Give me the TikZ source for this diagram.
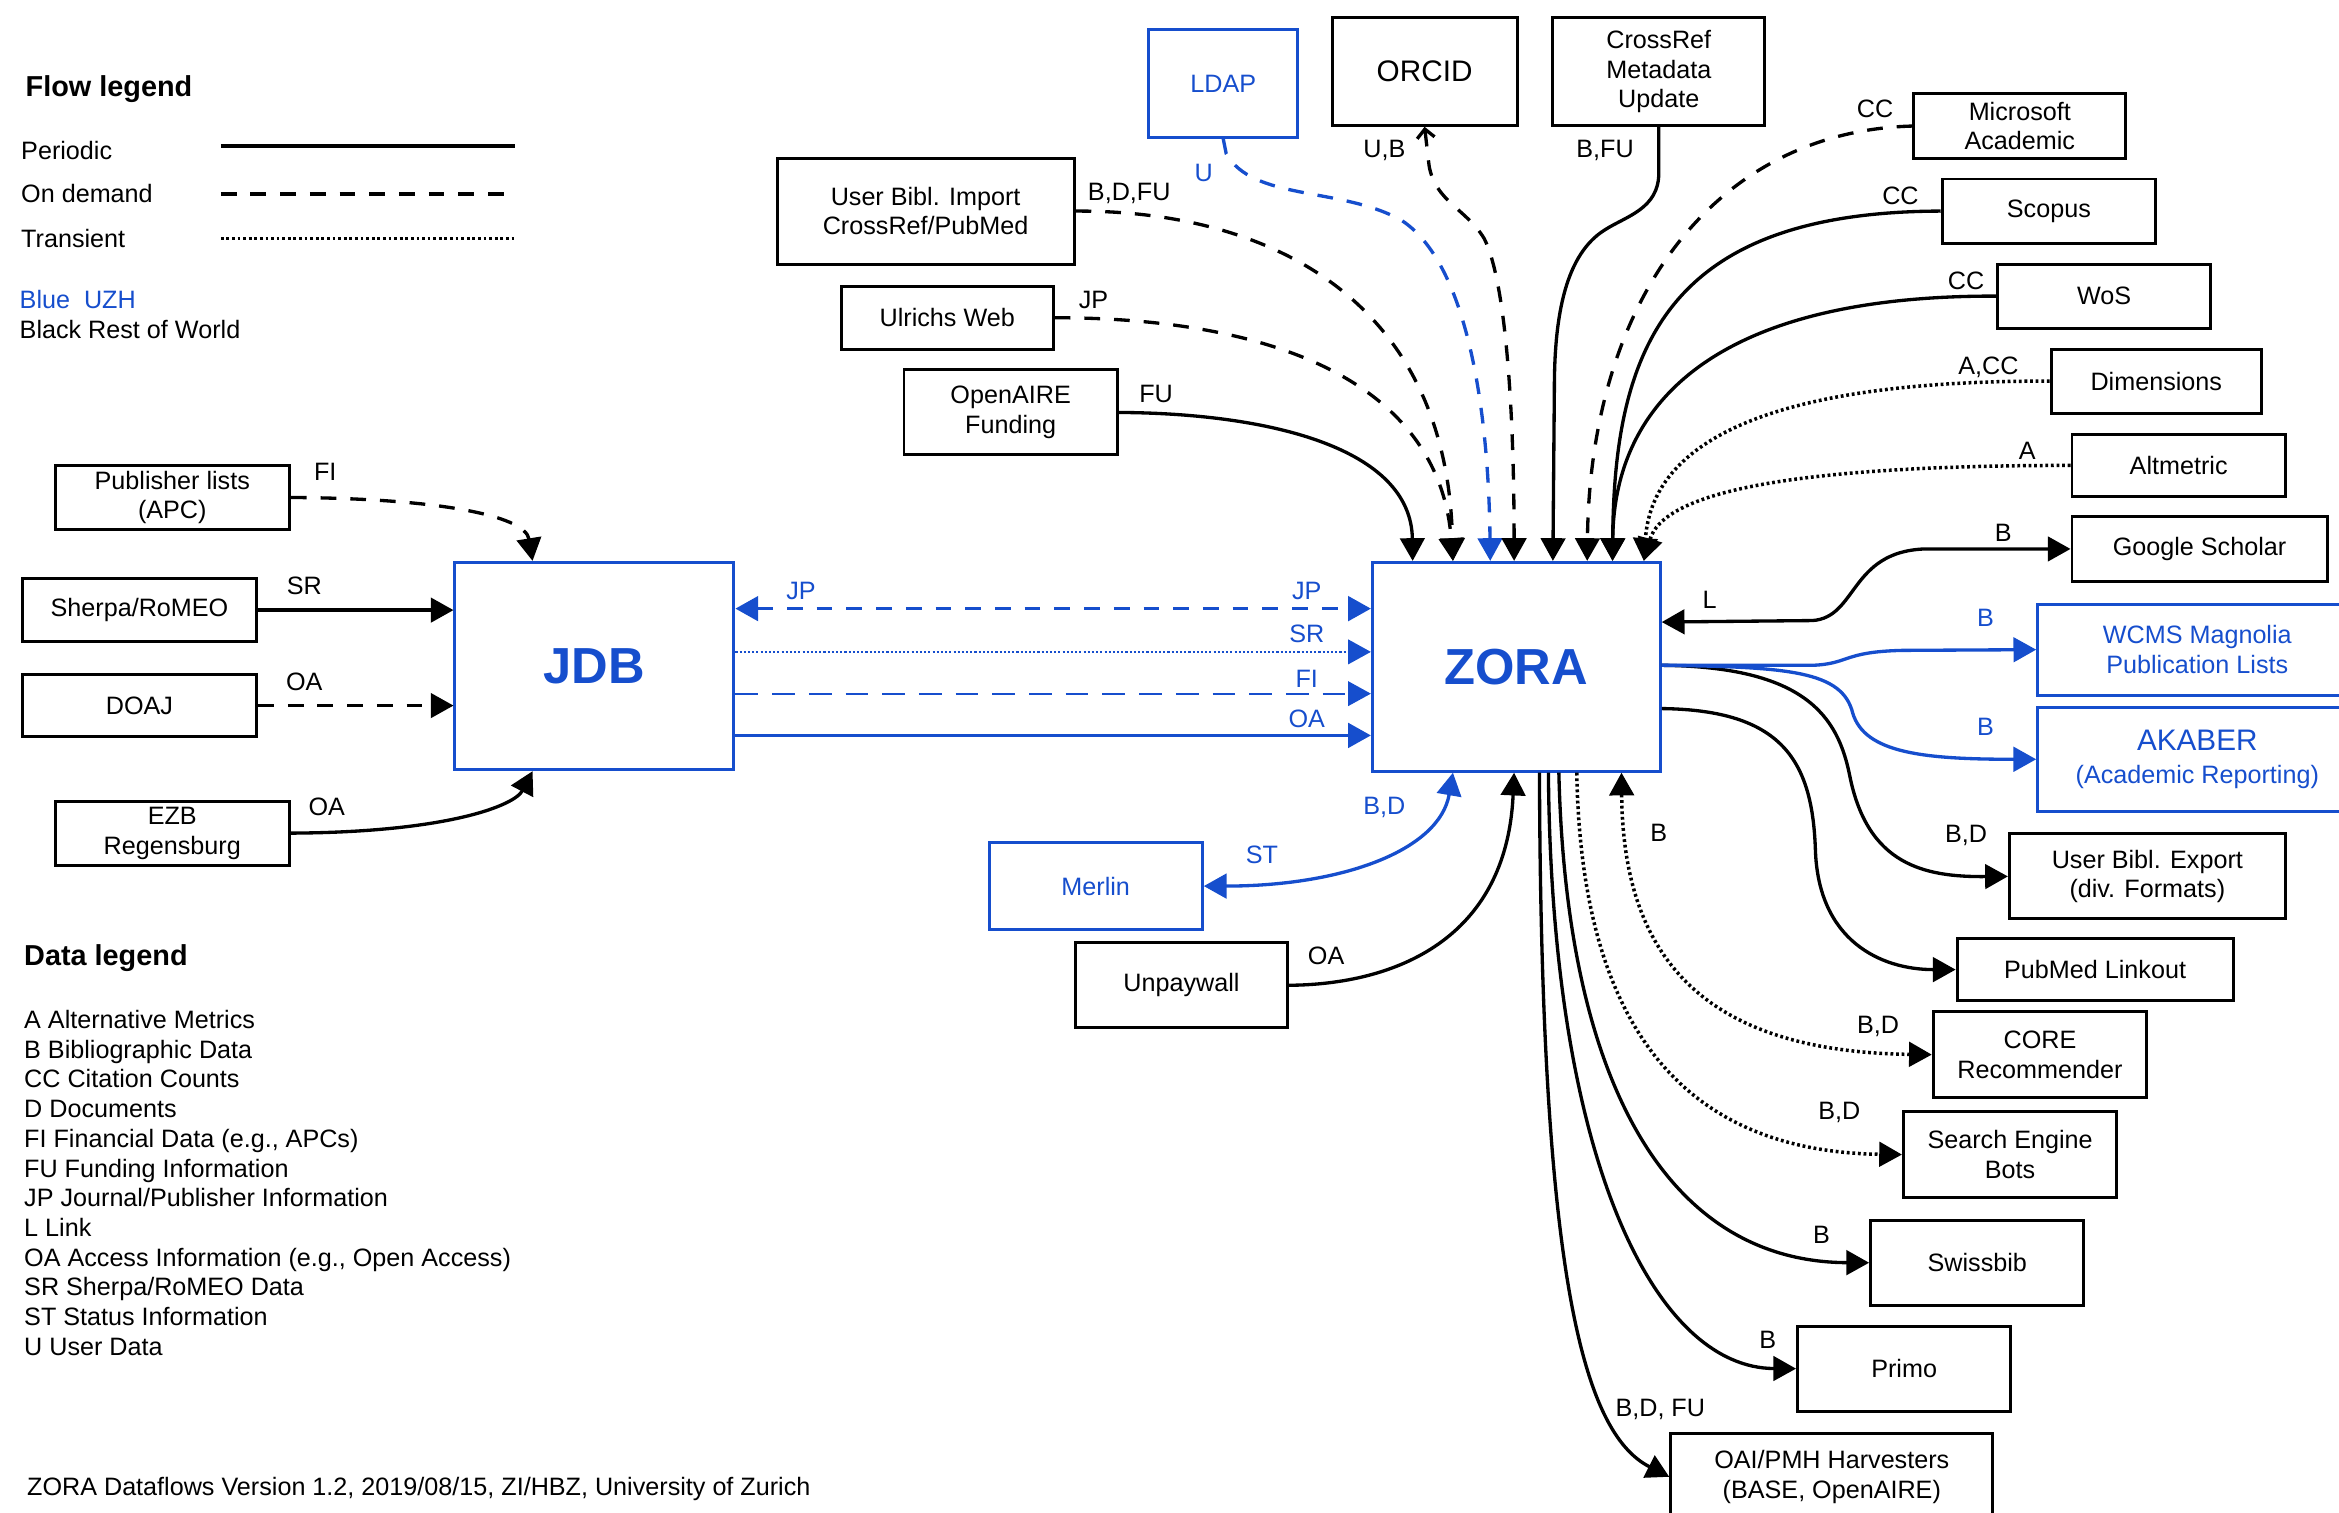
\documentclass[tikz,border=0pt]{standalone}
\usepackage{fontspec}
\setmainfont{Liberation Sans}
\usetikzlibrary{arrows.meta,calc}

\definecolor{uzh}{RGB}{22,78,205}
\newcommand{\boxfont}{\fontsize{14.4}{17}\selectfont}
\newcommand{\namefont}{\fontsize{17}{20}\selectfont}
\newcommand{\hubfont}{\fontsize{29}{34}\selectfont\bfseries}
\newcommand{\legfont}{\fontsize{16.5}{20}\selectfont\bfseries}

\tikzset{
  box/.style={draw, line width=1.7pt, inner sep=0pt, align=center, font=\boxfont},
  ubox/.style={box, draw=uzh, text=uzh},
  wh/.style 2 args={minimum width=#1*0.03cm, minimum height=#2*0.03cm},
  lbl/.style={inner sep=0pt, font=\boxfont},
  ulbl/.style={lbl, text=uzh},
  flow/.style={line width=1.9pt, ->},
  ondemand/.style={dash pattern=on 9pt off 8pt},
  transient/.style={line width=2pt, dash pattern=on 1.6pt off 1.6pt}
}

\begin{document}
\begin{tikzpicture}[x=0.03cm, y=-0.03cm, >={Triangle[length=13pt,width=14pt]}]
  \useasboundingbox (0,0) rectangle (1568,1014);

  % legends
  \node[anchor=west, inner sep=0pt, font=\legfont] (flowleg) at (17,60) {Flow legend};
  \node[lbl, anchor=west] (lgper) at (14,101) {Periodic};
  \node[lbl, anchor=west] (lgdem) at (14,130) {On demand};
  \node[lbl, anchor=west] (lgtra) at (14,160) {Transient};
  \draw[line width=2pt] (148,98) -- (345,98);
  \draw[line width=2pt, ondemand] (148,130) -- (345,130);
  \draw[transient] (148,160) -- (345,160);
  \node[ulbl, anchor=west] (lgblue) at (13,201) {Blue\ \ UZH};
  \node[lbl, anchor=west] (lgblack) at (13,221) {Black Rest of World};

  \node[anchor=west, inner sep=0pt, font=\legfont] (dataleg) at (16,642) {Data legend};
  \node[lbl, anchor=north west, align=left, font=\fontsize{14.4}{17}\selectfont] (datalist) at (16,677)
    {A Alternative Metrics\\B Bibliographic Data\\CC Citation Counts\\D Documents\\
     FI Financial Data (e.g., APCs)\\FU Funding Information\\JP Journal/Publisher Information\\
     L Link\\OA Access Information (e.g., Open Access)\\SR Sherpa/RoMEO Data\\
     ST Status Information\\U User Data};
  \node[lbl, anchor=west] (footer) at (18,998) {ZORA Dataflows Version 1.2, 2019/08/15, ZI/HBZ, University of Zurich};

  % systems
  \node[box, wh={157}{43}] (pub) at (115.5,333.5) {Publisher lists\\(APC)};
  \node[box, wh={157}{42}] (sherpa) at (93.5,409) {Sherpa/RoMEO};
  \node[box, wh={157}{42}] (doaj) at (93.5,473) {DOAJ};
  \node[box, wh={157}{43}] (ezb) at (115.5,558.5) {EZB\\Regensburg};
  \node[ubox, wh={187}{139}, font=\hubfont] (jdb) at (398.5,446.5) {JDB};
  \node[ubox, wh={193}{140}, font=\hubfont] (zora) at (1016.5,447) {ZORA};
  \node[ubox, wh={100}{72}] (ldap) at (820,56) {LDAP};
  \node[box, wh={124}{72}, font=\namefont] (orcid) at (955,48) {ORCID};
  \node[box, wh={142}{72}] (crossref) at (1112,48) {CrossRef\\Metadata\\Update};
  \node[box, wh={199}{71}] (ubimport) at (620.5,141.5) {User Bibl. Import\\CrossRef/PubMed};
  \node[box, wh={142}{42}] (ulrichs) at (635,213) {Ulrichs Web};
  \node[box, wh={143}{57}] (openaire) at (677.5,276.5) {OpenAIRE\\Funding};
  \node[box, wh={142}{43}] (msacad) at (1354,84.5) {Microsoft\\Academic};
  \node[box, wh={143}{43}] (scopus) at (1373.5,141.5) {Scopus};
  \node[box, wh={143}{43}] (wos) at (1410.5,198.5) {WoS};
  \node[box, wh={141}{43}] (dims) at (1445.5,255.5) {Dimensions};
  \node[box, wh={143}{42}] (altm) at (1460.5,312) {Altmetric};
  \node[box, wh={171}{44}] (gscholar) at (1474.5,368) {Google Scholar};
  \node[ubox, wh={214}{61}] (wcms) at (1473,435.5) {WCMS Magnolia\\Publication Lists};
  \node[ubox, wh={214}{70}] (akaber) at (1473,509) {{\namefont AKABER}\\[2pt](Academic Reporting)};
  \node[box, wh={185}{57}] (ubexport) at (1439.5,587.5) {User Bibl. Export\\(div. Formats)};
  \node[box, wh={185}{42}] (pubmed) at (1404.5,650) {PubMed Linkout};
  \node[box, wh={143}{58}] (core) at (1367.5,707) {CORE\\Recommender};
  \node[box, wh={143}{58}] (seb) at (1347.5,774) {Search Engine\\Bots};
  \node[box, wh={143}{57}] (swissbib) at (1325.5,846.5) {Swissbib};
  \node[box, wh={143}{57}] (primo) at (1276.5,917.5) {Primo};
  \node[box, wh={216}{58}] (oai) at (1228,990) {OAI/PMH Harvesters\\(BASE, OpenAIRE)};
  \node[ubox, wh={143}{58}] (merlin) at (734.5,594) {Merlin};
  \node[box, wh={142}{57}] (unpaywall) at (792,660.5) {Unpaywall};

  % ports on ZORA
  \coordinate (zt1) at ($(zora.north west)+(28,0)$);
  \coordinate (zt2) at ($(zora.north west)+(55,0)$);
  \coordinate (zt3) at ($(zora.north west)+(80,0)$);
  \coordinate (zt4) at ($(zora.north west)+(96,0)$);
  \coordinate (zt5) at ($(zora.north west)+(122,0)$);
  \coordinate (zt6) at ($(zora.north west)+(145,0)$);
  \coordinate (zt7) at ($(zora.north west)+(162,0)$);
  \coordinate (zt8) at ($(zora.north west)+(183,0)$);
  \coordinate (zb1) at ($(zora.south west)+(55,0)$);
  \coordinate (zb2) at ($(zora.south west)+(96,0)$);
  \coordinate (zb3) at ($(zora.south west)+(113,0)$);
  \coordinate (zb4) at ($(zora.south west)+(119,0)$);
  \coordinate (zb5) at ($(zora.south west)+(126,0)$);
  \coordinate (zb6) at ($(zora.south west)+(138,0)$);
  \coordinate (zb7) at ($(zora.south west)+(168,0)$);
  \coordinate (zr1) at ($(zora.north east)+(0,41)$);
  \coordinate (zr2) at ($(zora.north east)+(0,70)$);
  \coordinate (zr3) at ($(zora.north east)+(0,99)$);

  % into JDB
  \draw[flow, ondemand] (pub.east) .. controls (290,334) and (352,345) .. ($(jdb.north west)+(53,0)$);
  \draw[flow] (sherpa.east) -- (sherpa.east -| jdb.west);
  \draw[flow, ondemand] (doaj.east) -- (doaj.east -| jdb.west);
  \draw[flow] (ezb.east) .. controls (300,558) and (345,540) .. ($(jdb.south west)+(53,0)$);

  % JDB to ZORA
  \draw[flow, <->, uzh, ondemand] ($(jdb.north east)+(0,32)$) -- ($(zora.north west)+(0,32)$);
  \draw[flow, uzh, line width=1.3pt, dash pattern=on 1.2pt off 1.2pt] ($(jdb.north east)+(0,61)$) -- ($(zora.north west)+(0,61)$);
  \draw[flow, uzh, line width=1.1pt, dash pattern=on 13pt off 8pt] ($(jdb.north east)+(0,89)$) -- ($(zora.north west)+(0,89)$);
  \draw[flow, uzh] ($(jdb.north east)+(0,117)$) -- ($(zora.north west)+(0,117)$);

  % into ZORA from above
  \draw[flow] (openaire.east) .. controls (850,277) and (946,300) .. (zt1);
  \draw[flow, ondemand] (ubimport.east) .. controls (850,141) and (970,200) .. (zt2);
  \draw[flow, ondemand] (ulrichs.east) .. controls (860,213) and (965,260) .. (zt2);
  \draw[flow, uzh, ondemand] (ldap.south) -- ++(2,10) .. controls (840,135) and (900,125) .. (940,148) .. controls (985,178) and (998,280) .. (zt3);
  \draw[flow, ondemand, {Straight Barb[length=5pt,width=10pt]}->] (orcid.south) -- ++(3,26) .. controls (962,135) and (983,140) .. (995,160) .. controls (1010,190) and (1015,280) .. (zt4);
  \draw[flow] (crossref.south) -- ++(0,31) .. controls (1112,140) and (1090,145) .. (1076,154) .. controls (1050,170) and (1042,210) .. (1042,260) -- (zt5);
  \draw[flow, ondemand] (msacad.west) .. controls (1150,88) and (1066,200) .. (zt6);
  \draw[flow] (scopus.west) .. controls (1120,142) and (1082,230) .. (zt7);
  \draw[flow] (wos.west) .. controls (1150,198) and (1082,270) .. (zt7);
  \draw[flow, transient] (dims.west) .. controls (1200,255) and (1108,290) .. (zt8);
  \draw[flow, transient] (altm.west) .. controls (1200,312) and (1115,330) .. (zt8);

  % out of ZORA to the right
  \draw[flow, <->] (zr1) -- (1215,416) .. controls (1245,414) and (1240,370) .. (1290,368) -- (gscholar.west);
  \draw[flow] (zr2) .. controls (1210,447) and (1232,480) .. (1240,520) .. controls (1252,580) and (1290,588) .. (ubexport.west);
  \draw[flow, uzh] (zr2) -- (1215,446) .. controls (1240,445) and (1235,437) .. (1275,436) -- (wcms.west);
  \draw[flow, uzh] (zr2) .. controls (1200,447) and (1235,450) .. (1242,478) .. controls (1250,505) and (1290,509) .. (akaber.west);
  \draw[flow] (zr3) .. controls (1195,476) and (1215,510) .. (1217,570) .. controls (1219,630) and (1260,650) .. (pubmed.west);

  % out of ZORA below
  \draw[flow, <->, transient] (zb7) .. controls (1088,640) and (1140,705) .. (core.west);
  \draw[flow, transient] (zb6) .. controls (1060,690) and (1130,772) .. (seb.west);
  \draw[flow] (zb5) .. controls (1050,730) and (1120,846) .. (swissbib.west);
  \draw[flow] (zb4) .. controls (1040,780) and (1110,917) .. (primo.west);
  \draw[flow] (zb3) .. controls (1033,850) and (1060,960) .. (oai.west);
  \draw[flow, <->, uzh] (merlin.east) .. controls (900,594) and (965,570) .. (zb1);
  \draw[flow] (unpaywall.east) .. controls (935,660) and (1010,630) .. (zb2);

  % flow labels
  \node[lbl] (lfi) at (218,316) {FI};
  \node[lbl] (lsr) at (204,393) {SR};
  \node[lbl] (loa1) at (204,457) {OA};
  \node[lbl] (loa2) at (219,541) {OA};
  \node[ulbl] (ljp1) at (537,396) {JP};
  \node[ulbl] (ljp2) at (876,396) {JP};
  \node[ulbl] (lsr2) at (876,425) {SR};
  \node[ulbl] (lfi2) at (876,455) {FI};
  \node[ulbl] (loa3) at (876,482) {OA};
  \node[ulbl] (lu) at (807,116) {U};
  \node[lbl] (lub) at (928,101) {U,B};
  \node[lbl] (lbfu) at (1076,101) {B,FU};
  \node[lbl] (lbdfu) at (757,130) {B,D,FU};
  \node[lbl] (ljp3) at (733,201) {JP};
  \node[lbl] (lfu) at (775,264) {FU};
  \node[lbl] (lcc1) at (1257,73) {CC};
  \node[lbl] (lcc2) at (1274,131) {CC};
  \node[lbl] (lcc3) at (1318,188) {CC};
  \node[lbl] (lacc) at (1333,246) {A,CC};
  \node[lbl] (la) at (1359,302) {A};
  \node[lbl] (lb1) at (1343,357) {B};
  \node[lbl] (ll) at (1146,402) {L};
  \node[ulbl] (lb2) at (1331,414) {B};
  \node[ulbl] (lb3) at (1331,487) {B};
  \node[lbl] (lbd1) at (1318,560) {B,D};
  \node[lbl] (lb4) at (1112,558) {B};
  \node[lbl] (lbd2) at (1259,688) {B,D};
  \node[lbl] (lbd3) at (1233,746) {B,D};
  \node[lbl] (lb5) at (1221,828) {B};
  \node[lbl] (lb6) at (1185,898) {B};
  \node[lbl] (lbdfu2) at (1113,945) {B,D, FU};
  \node[lbl] (loa4) at (889,641) {OA};
  \node[ulbl] (lst) at (846,573) {ST};
  \node[ulbl] (lbd4) at (928,541) {B,D};
\end{tikzpicture}
\end{document}
